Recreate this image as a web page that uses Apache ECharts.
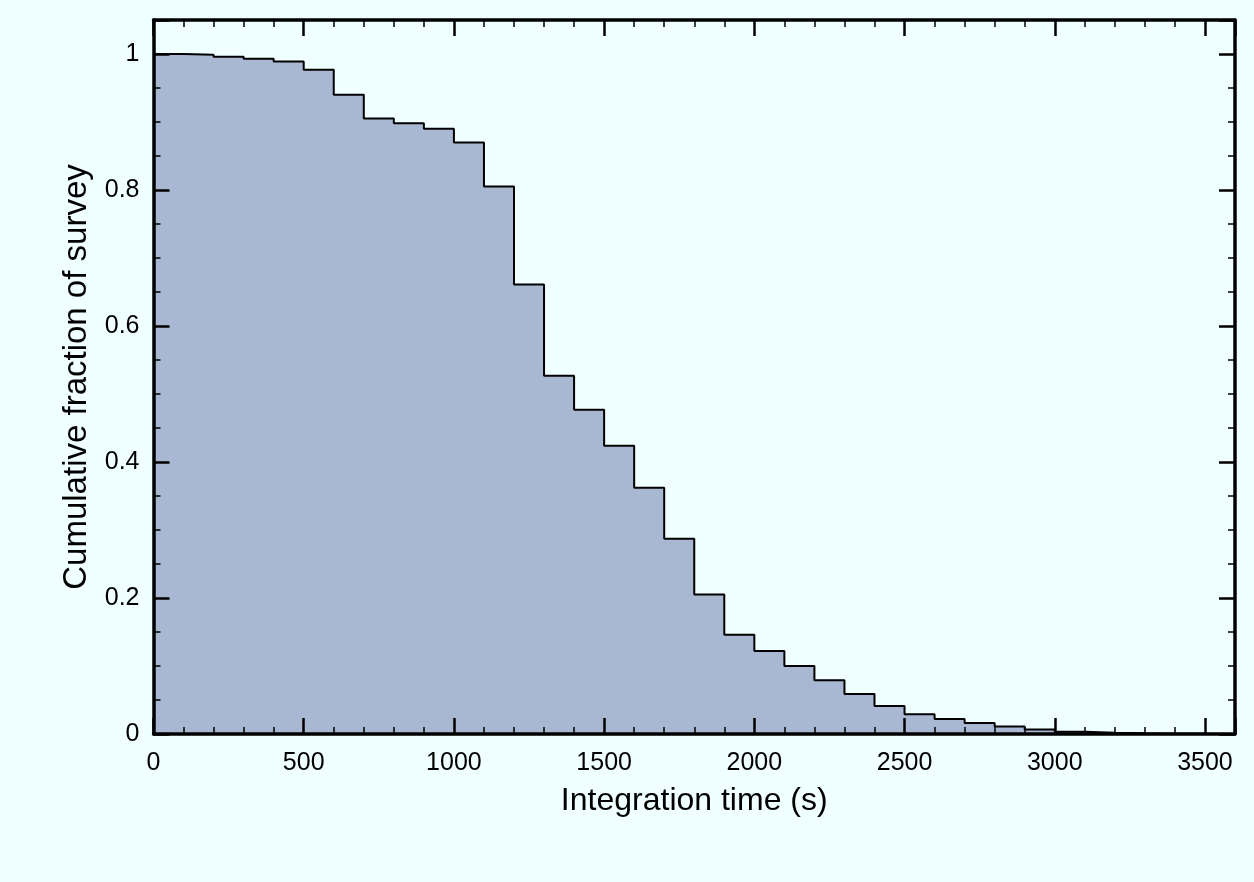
<!DOCTYPE html>
<html lang="en">
<head>
    <meta charset="UTF-8">
    <title>Cumulative fraction of survey</title>
    <script src="https://cdn.jsdelivr.net/npm/echarts@6/dist/echarts.min.js"></script>
</head>
<style>
    *{
        margin: 0;
        padding: 0;
    }
    html , body{
        overflow: hidden;
        height: 100%;
        width: 100%;
        background-color: #f0ffff;
    }
    .contain{
        width: 1254px;
        height: 882px;
    }
</style>
<body>
<div class="contain"></div>
<script>
    // bin edges (s) and cumulative fraction for each 100 s bin
    const binEdges = [0, 100, 200, 300, 400, 500, 600, 700, 800, 900,
        1000, 1100, 1200, 1300, 1400, 1500, 1600, 1700, 1800, 1900,
        2000, 2100, 2200, 2300, 2400, 2500, 2600, 2700, 2800, 2900,
        3000, 3100, 3200, 3300, 3400, 3500];
    const fractions = [1.000, 0.999, 0.996, 0.993, 0.989, 0.977, 0.940, 0.905, 0.898, 0.890,
        0.870, 0.805, 0.661, 0.527, 0.477, 0.424, 0.362, 0.287, 0.205, 0.146,
        0.122, 0.100, 0.079, 0.059, 0.041, 0.029, 0.022, 0.016, 0.011, 0.0066,
        0.0034, 0.002, 0.001, 0.0005, 0.0002];

    let chart = echarts.init(document.querySelector('.contain'));

    // step points: each bin starts at its left edge, last edge closes the final bin
    let stepData = binEdges.map((e, i) => [e, i < fractions.length ? fractions[i] : fractions[fractions.length - 1]]);

    const font = '"Liberation Sans", Arial, Helvetica, sans-serif';

    function axis(dir, pos, labels){
        let isX = dir === 'x';
        return {
            type: 'value',
            position: pos,
            min: 0,
            max: isX ? 3600 : 1.05,
            interval: isX ? 500 : 0.2,
            axisLine: {show: true, onZero: false, lineStyle: {color: '#000', width: 3.5}},
            axisTick: {show: true, inside: true, length: 16, lineStyle: {color: '#000', width: 2.5}},
            minorTick: {show: true, splitNumber: isX ? 5 : 4, length: 7, lineStyle: {color: '#000', width: 1.5}},
            axisLabel: {
                show: labels, margin: isX ? 17 : 14, fontSize: 25, color: '#000', fontFamily: font,
                showMaxLabel: false,
                formatter: v => String(v)
            },
            splitLine: {show: false},
            minorSplitLine: {show: false},
            z: 10
        };
    }

    let xBottom = axis('x', 'bottom', true);
    xBottom.name = 'Integration time (s)';
    xBottom.nameLocation = 'middle';
    xBottom.nameGap = 51;
    xBottom.nameTextStyle = {fontSize: 32, color: '#000', fontFamily: font};

    let yLeft = axis('y', 'left', true);
    yLeft.name = 'Cumulative fraction of survey';
    yLeft.nameLocation = 'middle';
    yLeft.nameGap = 57;
    yLeft.nameTextStyle = {fontSize: 33, color: '#000', fontFamily: font};

    let option = {
        backgroundColor: '#f0ffff',
        animation: false,
        grid: {left: 153.5, right: 19, top: 20, bottom: 148, containLabel: false},
        xAxis: [xBottom, axis('x', 'top', false)],
        yAxis: [yLeft, axis('y', 'right', false)],
        series: [{
            type: 'line',
            xAxisIndex: 0,
            yAxisIndex: 0,
            step: 'end',
            symbol: 'none',
            data: stepData,
            lineStyle: {color: '#000', width: 2},
            areaStyle: {color: '#a8b8d3', opacity: 1},
            z: 1
        }]
    };

    chart.setOption(option);
</script>
</body>
</html>
